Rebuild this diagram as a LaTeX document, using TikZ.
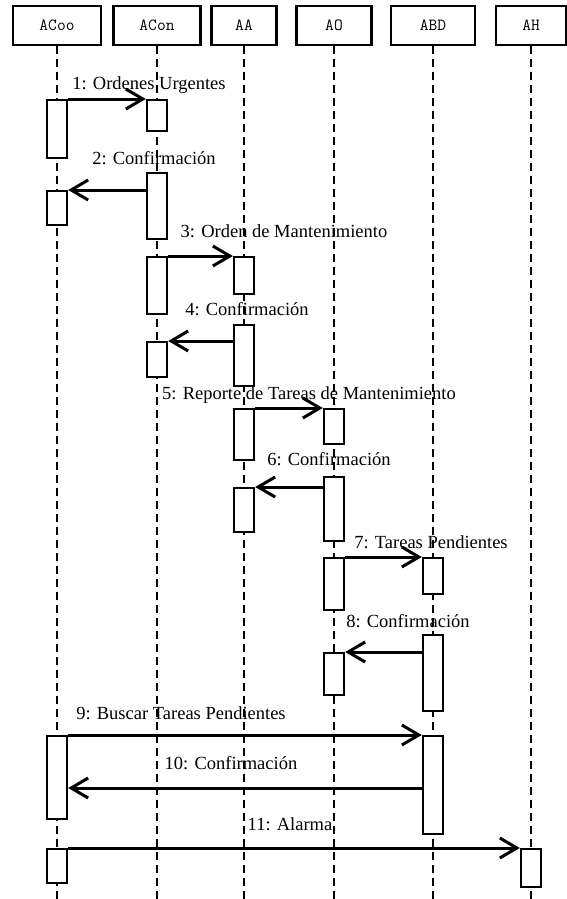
\documentclass[tikz,border=0pt]{standalone}
\usepackage{fontspec}
\setmainfont{Liberation Serif}
\usetikzlibrary{arrows.meta}

\begin{document}
\begin{tikzpicture}[x=1pt,y=-1pt]
  \tikzstyle{obj} = [draw, line width=2.8pt, minimum height=39pt, inner sep=0pt, font=\ttfamily\fontsize{17pt}{19pt}\selectfont]
  \tikzstyle{life} = [line width=2pt, dash pattern=on 8pt off 5pt]
  \tikzstyle{act} = [draw, fill=white, line width=2.4pt, minimum width=20pt, inner sep=0pt, anchor=north]
  \tikzstyle{msg} = [-{Straight Barb[length=17pt,width=20pt]}, line width=3pt]
  \tikzstyle{lbl} = [inner sep=0pt, font=\fontsize{18.5pt}{20pt}\selectfont]

  \useasboundingbox (0,0) rectangle (567,899);
  \coordinate (bot) at (0,899);
  \coordinate (r10) at (0,788);

  \node[obj, minimum width=88pt] (coo) at (57,25.5) {ACoo};
  \node[obj, minimum width=87pt] (con) at (157,25.5) {ACon};
  \node[obj, minimum width=65pt] (aa) at (244,25.5) {AA};
  \node[obj, minimum width=75pt] (ao) at (334,25.5) {AO};
  \node[obj, minimum width=84pt] (bd) at (433,25.5) {ABD};
  \node[obj, minimum width=70pt] (ah) at (531,25.5) {AH};

  \draw[life] (coo.south) -- (coo.south |- bot);
  \draw[life] (con.south) -- (con.south |- bot);
  \draw[life] (aa.south) -- (aa.south |- bot);
  \draw[life] (ao.south) -- (ao.south |- bot);
  \draw[life] (bd.south) -- (bd.south |- bot);
  \draw[life] (ah.south) -- (ah.south |- bot);

  % activations
  \node[act, minimum height=58pt] (coo1) at (57,99) {};
  \node[act, minimum height=31pt] (con1) at (157,99) {};
  \node[act, minimum height=66pt] (con2) at (157,172) {};
  \node[act, minimum height=34pt] (coo2) at (57,190) {};
  \node[act, minimum height=57pt] (con3) at (157,256) {};
  \node[act, minimum height=37pt] (aa1) at (244,256) {};
  \node[act, minimum height=61pt] (aa2) at (244,324) {};
  \node[act, minimum height=35pt] (con4) at (157,341) {};
  \node[act, minimum height=51pt] (aa3) at (244,408) {};
  \node[act, minimum height=35pt] (ao1) at (334,408) {};
  \node[act, minimum height=64pt] (ao2) at (334,476) {};
  \node[act, minimum height=44pt] (aa4) at (244,487) {};
  \node[act, minimum height=52pt] (ao3) at (334,557) {};
  \node[act, minimum height=36pt] (bd1) at (433,557) {};
  \node[act, minimum height=76pt] (bd2) at (433,634) {};
  \node[act, minimum height=42pt] (ao4) at (334,652) {};
  \node[act, minimum height=83pt] (coo3) at (57,735) {};
  \node[act, minimum height=98pt] (bd3) at (433,735) {};
  \node[act, minimum height=34pt] (coo4) at (57,848) {};
  \node[act, minimum height=38pt] (ah1) at (531,848) {};

  % messages
  \draw[msg] (coo1.north east) -- (con1.north west);
  \draw[msg] (con2.west |- coo2.north) -- (coo2.north east);
  \draw[msg] (con3.north east) -- (aa1.north west);
  \draw[msg] (aa2.west |- con4.north) -- (con4.north east);
  \draw[msg] (aa3.north east) -- (ao1.north west);
  \draw[msg] (ao2.west |- aa4.north) -- (aa4.north east);
  \draw[msg] (ao3.north east) -- (bd1.north west);
  \draw[msg] (bd2.west |- ao4.north) -- (ao4.north east);
  \draw[msg] (coo3.north east) -- (bd3.north west);
  \draw[msg] (bd3.west |- r10) -- (coo3.east |- r10);
  \draw[msg] (coo4.north east) -- (ah1.north west);

  \node[lbl] (m1) at (149,85) {1: Ordenes Urgentes};
  \node[lbl] (m2) at (154,158) {2: Confirmación};
  \node[lbl] (m3) at (284,231) {3: Orden de Mantenimiento};
  \node[lbl] (m4) at (247,309) {4: Confirmación};
  \node[lbl] (m5) at (309,395) {5: Reporte de Tareas de Mantenimiento};
  \node[lbl] (m6) at (329,459) {6: Confirmación};
  \node[lbl] (m7) at (431,542) {7: Tareas Pendientes};
  \node[lbl] (m8) at (408,621) {8: Confirmación};
  \node[lbl] (m9) at (181,713) {9: Buscar Tareas Pendientes};
  \node[lbl] (m10) at (231,763) {10: Confirmación};
  \node[lbl] (m11) at (290,824) {11: Alarma};
\end{tikzpicture}
\end{document}
